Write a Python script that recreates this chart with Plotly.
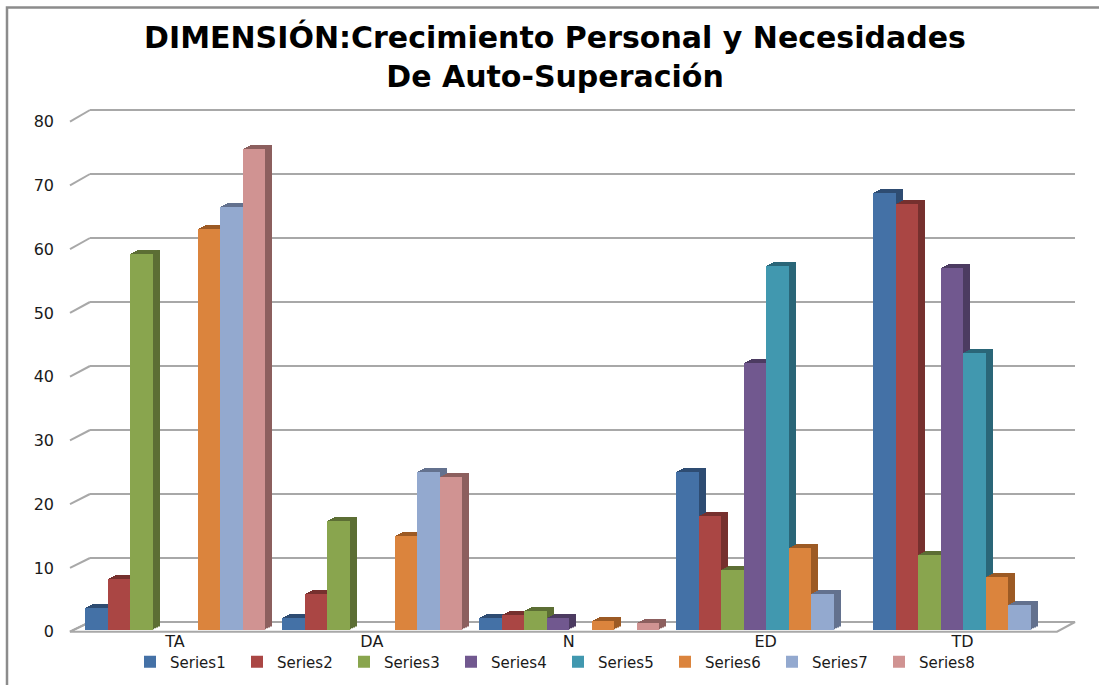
import plotly.graph_objects as go

# ---------------- data ----------------
categories = ["TA", "DA", "N", "ED", "TD"]
series_names = ["Series1", "Series2", "Series3", "Series4",
                "Series5", "Series6", "Series7", "Series8"]
series1 = [3.5, 1.9, 1.9, 24.7, 68.2]
series2 = [8.0, 5.7, 2.4, 17.8, 66.4]
series3 = [58.7, 17.1, 3.1, 9.5, 11.8]
series4 = [0.0, 0.0, 1.9, 41.7, 56.5]
series5 = [0.0, 0.0, 0.0, 56.8, 43.2]
series6 = [62.5, 14.8, 1.5, 12.9, 8.3]
series7 = [66.0, 24.7, 0.0, 5.7, 3.9]
series8 = [75.0, 23.9, 1.1, 0.0, 0.0]
y_ticks = [0, 10, 20, 30, 40, 50, 60, 70, 80]

all_series = [series1, series2, series3, series4,
              series5, series6, series7, series8]

front_colors = ["#4471A6", "#AA4644", "#89A54E", "#71588F",
                "#4198AF", "#DB843D", "#93A9CF", "#D09392"]
side_colors = ["#2E4C72", "#76302E", "#5C6E34", "#4C3B61",
               "#2A6678", "#9C5A24", "#63718E", "#8C5F5E"]

# ---------------- geometry (pixels) ----------------
W, H = 1099, 685


def fx(p):
    return p / W


def fy(p):
    return (H - p) / H


front_x = (76.5, 1061.0)          # category band span
front_y = (630.0, 116.5)          # bar plane: value 0 -> 80
label_y = (631.7, 121.7)          # front tick plane (axis labels)
wall_x = (90.0, 1075.0)
wall_y = (622.0, 110.0)           # back wall, value 0 -> 80
wall_top = 81                     # a little headroom so the 80 gridline shows
wall_top_px = wall_y[0] + (wall_y[1] - wall_y[0]) * wall_top / 80
depth_dx, depth_dy = 7.5, 3.5     # bar depth offset
steps = 4

band_frac = 0.914
bw = band_frac / len(all_series)

fig = go.Figure()
layout_axes = {}

# wall (gridlines) subplot: x / y
layout_axes["xaxis"] = dict(domain=[fx(wall_x[0]), fx(wall_x[1])], range=[-0.5, 4.5],
                            showgrid=False, zeroline=False, showticklabels=False,
                            showline=False, fixedrange=True)
layout_axes["yaxis"] = dict(domain=[fy(wall_y[0]), fy(wall_top_px)], range=[0, wall_top],
                            tickvals=y_ticks, showgrid=True, gridcolor="#A8A8A8",
                            gridwidth=2, zeroline=True, zerolinecolor="#A8A8A8",
                            zerolinewidth=2, showticklabels=False, showline=False,
                            anchor="x", fixedrange=True)
fig.add_trace(go.Scatter(x=[categories[0]], y=[None], xaxis="x", yaxis="y",
                         showlegend=False, hoverinfo="skip"))

# depth copies (furthest first)
axis_id = 2
for k in range(steps, 0, -1):
    sx = depth_dx * k / steps
    sy = depth_dy * k / steps
    xa = "xaxis%d" % axis_id
    ya = "yaxis%d" % axis_id
    layout_axes[xa] = dict(domain=[fx(front_x[0] + sx), fx(front_x[1] + sx)],
                           range=[-0.5, 4.5], type="category",
                           categoryorder="array", categoryarray=categories,
                           visible=False, anchor="y%d" % axis_id, fixedrange=True)
    layout_axes[ya] = dict(domain=[fy(front_y[0] - sy), fy(front_y[1] - sy)],
                           range=[0, 80], visible=False,
                           anchor="x%d" % axis_id, fixedrange=True)
    for i, vals in enumerate(all_series):
        fig.add_trace(go.Bar(x=categories, y=vals, width=bw,
                             offset=-band_frac / 2 + i * bw,
                             marker=dict(color=side_colors[i], line=dict(width=0)),
                             xaxis="x%d" % axis_id, yaxis="y%d" % axis_id,
                             showlegend=False, hoverinfo="skip"))
    axis_id += 1

# front faces
fid = axis_id
lid = fid + 1
layout_axes["xaxis%d" % fid] = dict(domain=[fx(front_x[0]), fx(front_x[1])],
                                    range=[-0.5, 4.5], type="category",
                                    categoryorder="array", categoryarray=categories,
                                    showgrid=False, zeroline=False, showline=False,
                                    ticks="", anchor="y%d" % fid,
                                    tickfont=dict(family="DejaVu Sans", size=16,
                                                  color="#1A1A1A"),
                                    fixedrange=True)
layout_axes["yaxis%d" % fid] = dict(domain=[fy(front_y[0]), fy(front_y[1])],
                                    range=[0, 80], showticklabels=False,
                                    showgrid=False, zeroline=False, showline=False,
                                    ticks="", anchor="x%d" % fid, fixedrange=True)
# value-axis labels sit on the front tick plane
layout_axes["yaxis%d" % lid] = dict(domain=[fy(label_y[0]), fy(label_y[1])],
                                    range=[0, 80], tickvals=y_ticks,
                                    showgrid=False, zeroline=False, showline=False,
                                    ticks="", anchor="free", position=fx(54),
                                    tickfont=dict(family="DejaVu Sans", size=16,
                                                  color="#1A1A1A"),
                                    fixedrange=True)
for i, vals in enumerate(all_series):
    fig.add_trace(go.Bar(x=categories, y=vals, width=bw,
                         offset=-band_frac / 2 + i * bw, name=series_names[i],
                         marker=dict(color=front_colors[i], line=dict(width=0)),
                         xaxis="x%d" % fid, yaxis="y%d" % fid))
fig.add_trace(go.Scatter(x=[categories[0]], y=[None], xaxis="x%d" % fid,
                         yaxis="y%d" % lid, showlegend=False, hoverinfo="skip"))

# ---------------- decorations ----------------
shapes = []
floor_front = label_y[0]
shapes.append(dict(type="path", xref="paper", yref="paper",
                   path="M %f,%f L %f,%f L %f,%f L %f,%f Z" % (
                       fx(70), fy(floor_front), fx(1057), fy(floor_front),
                       fx(wall_x[1]), fy(wall_y[0]), fx(wall_x[0]), fy(wall_y[0])),
                   line=dict(color="#A8A8A8", width=2), fillcolor="rgba(0,0,0,0)",
                   layer="below"))
for v in y_ticks:
    yf = label_y[0] + (label_y[1] - label_y[0]) * v / 80
    yb = wall_y[0] + (wall_y[1] - wall_y[0]) * v / 80
    shapes.append(dict(type="line", xref="paper", yref="paper",
                       x0=fx(70), y0=fy(yf), x1=fx(wall_x[0]), y1=fy(yb),
                       line=dict(color="#A8A8A8", width=2), layer="below"))
shapes.append(dict(type="rect", xref="paper", yref="paper",
                   x0=fx(7), y0=fy(H + 20), x1=fx(W + 20), y1=fy(7.5),
                   line=dict(color="#8C8C8C", width=2.5),
                   fillcolor="rgba(0,0,0,0)", layer="above"))

fig.update_layout(
    width=W, height=H,
    margin=dict(l=0, r=0, t=0, b=0, autoexpand=False),
    paper_bgcolor="white", plot_bgcolor="rgba(0,0,0,0)",
    barmode="overlay", bargap=0,
    title=dict(text="DIMENSIÓN:Crecimiento Personal y Necesidades<br>De Auto-Superación",
               x=fx(555), xanchor="center", y=fy(48), yanchor="middle",
               font=dict(family="DejaVu Sans", size=30, color="#000000", weight="bold")),
    legend=dict(orientation="h", x=fx(130), xanchor="left", y=fy(662), yanchor="middle",
                font=dict(family="DejaVu Sans", size=15, color="#1A1A1A"),
                entrywidthmode="pixels", entrywidth=62, traceorder="normal",
                bgcolor="rgba(0,0,0,0)"),
    shapes=shapes,
    showlegend=True,
    **layout_axes,
)

fig.write_html("out.html")
